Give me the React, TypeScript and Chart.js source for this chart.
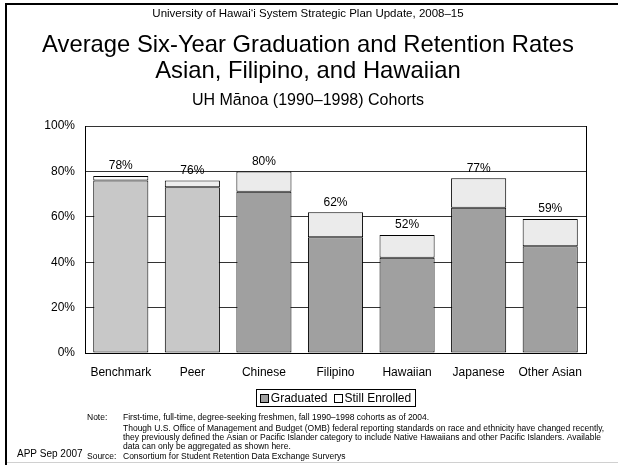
import React, { useEffect, useRef } from "react";
import { Chart, registerables } from "chart.js";

Chart.register(...registerables);

const categories = ["Benchmark", "Peer", "Chinese", "Filipino", "Hawaiian", "Japanese", "Other Asian"];
const graduated = [76, 73, 71, 51, 42, 64, 47];
const stillEnrolled = [2, 3, 9, 11, 10, 13, 12];
const totalLabels = ["78%", "76%", "80%", "62%", "52%", "77%", "59%"];
const gradColors = ["#c8c8c8", "#c8c8c8", "#a0a0a0", "#a0a0a0", "#a0a0a0", "#a0a0a0", "#a0a0a0"];
const enrolledColors = ["#fafafa", "#eeeeee", "#ebebeb", "#ebebeb", "#ebebeb", "#ebebeb", "#ebebeb"];
const seriesNames = ["Graduated", "Still Enrolled"];
const legendSwatch = ["#a0a0a0", "#ffffff"];

const topLine = "University of Hawai\u2018i System Strategic Plan Update, 2008\u201315";
const titleLines = ["Average Six-Year Graduation and Retention Rates", "Asian, Filipino, and Hawaiian"];
const subTitle = "UH M\u0101noa (1990\u20131998) Cohorts";
const noteLines = [
  "First-time, full-time, degree-seeking freshmen, fall 1990\u20131998 cohorts as of 2004.",
  "Though U.S. Office of Management and Budget (OMB) federal reporting standards on race and ethnicity have changed recently,",
  "they previously defined the Asian or Pacific Islander category to include Native Hawaiians and other Pacific Islanders. Available",
  "data can only be aggregated as shown here.",
];
const sourceLine = "Consortium for Student Retention Data Exchange Surverys";
const stamp = "APP Sep 2007";

const FONT = "'Liberation Sans', Arial, sans-serif";

const decor = {
  id: "decor",
  beforeDraw(chart: any) {
    const ctx = chart.ctx;
    ctx.save();
    ctx.fillStyle = "#ffffff";
    ctx.fillRect(0, 0, chart.width, chart.height);
    ctx.restore();
  },
  afterDraw(chart: any) {
    const ctx = chart.ctx;
    const ca = chart.chartArea;
    ctx.save();
    // frame
    ctx.fillStyle = "#000";
    ctx.fillRect(5, 3, 2, chart.height - 3);
    ctx.fillRect(5, 3, chart.width - 5, 2);
    ctx.fillStyle = "#d0d0d0";
    ctx.fillRect(7, 462, chart.width - 7, 1);

    // right border of plot
    ctx.strokeStyle = "#000";
    ctx.lineWidth = 1;
    ctx.beginPath();
    ctx.moveTo(Math.round(ca.right) + 0.5, ca.top);
    ctx.lineTo(Math.round(ca.right) + 0.5, ca.bottom);
    ctx.stroke();

    // titles
    ctx.fillStyle = "#000";
    ctx.textAlign = "center";
    ctx.textBaseline = "middle";
    const cx = 308;
    ctx.font = `11.5px ${FONT}`;
    ctx.fillText(topLine, cx, 14);
    ctx.font = `23.8px ${FONT}`;
    ctx.fillText(titleLines[0], cx, 45);
    ctx.fillText(titleLines[1], cx, 71);
    ctx.font = `16px ${FONT}`;
    ctx.fillText(subTitle, cx, 101);

    // value labels
    const meta = chart.getDatasetMeta(1);
    ctx.font = `12px ${FONT}`;
    ctx.textBaseline = "bottom";
    meta.data.forEach((bar: any, i: number) => {
      ctx.fillText(totalLabels[i], bar.x, bar.y - 4);
    });

    // legend
    ctx.font = `12px ${FONT}`;
    ctx.textAlign = "left";
    ctx.textBaseline = "middle";
    const sw = 8;
    const gap = 3;
    const sep = 6;
    const widths = seriesNames.map((s) => ctx.measureText(s).width);
    const inner = widths.reduce((a, w) => a + sw + gap + w, 0) + sep;
    const lx = (ca.left + ca.right) / 2 - inner / 2;
    const ly = 398;
    ctx.strokeStyle = "#000";
    ctx.lineWidth = 1;
    ctx.strokeRect(Math.round(lx - 4) + 0.5, 389.5, Math.round(inner + 8), 17);
    let x = lx;
    seriesNames.forEach((s, i) => {
      ctx.fillStyle = legendSwatch[i];
      ctx.fillRect(Math.round(x) + 0.5, ly - 4 + 0.5, sw, sw);
      ctx.strokeRect(Math.round(x) + 0.5, ly - 4 + 0.5, sw, sw);
      ctx.fillStyle = "#000";
      ctx.fillText(s, x + sw + gap, ly + 1);
      x += sw + gap + widths[i] + sep;
    });

    // notes
    ctx.font = `8.5px ${FONT}`;
    ctx.textBaseline = "middle";
    ctx.fillText("Note:", 87, 418);
    const ys = [418, 428.5, 438, 447];
    noteLines.forEach((l, i) => ctx.fillText(l, 123, ys[i]));
    ctx.fillText("Source:", 87, 457);
    ctx.fillText(sourceLine, 123, 457);
    ctx.font = `10px ${FONT}`;
    ctx.fillText(stamp, 17, 454);
    ctx.restore();
  },
};

export default function App() {
  const ref = useRef<HTMLCanvasElement>(null);
  useEffect(() => {
    if (!ref.current) return;
    const chart = new Chart(ref.current, {
      type: "bar",
      data: {
        labels: categories,
        datasets: [
          {
            label: seriesNames[0],
            data: graduated,
            backgroundColor: gradColors,
            borderColor: "#000",
            borderWidth: 1,
            borderSkipped: false,
            barPercentage: 0.77,
            categoryPercentage: 1,
          },
          {
            label: seriesNames[1],
            data: stillEnrolled,
            backgroundColor: enrolledColors,
            borderColor: "#000",
            borderWidth: 1,
            borderSkipped: false,
            barPercentage: 0.77,
            categoryPercentage: 1,
          },
        ],
      },
      options: {
        responsive: false,
        animation: false,
        devicePixelRatio: 1,
        layout: { padding: { left: 0, right: 32, top: 126, bottom: 72 } },
        plugins: { legend: { display: false }, title: { display: false }, tooltip: { enabled: false } },
        scales: {
          x: {
            stacked: true,
            grid: { display: false, drawTicks: false },
            border: { display: true, color: "#000", width: 1 },
            ticks: { color: "#000", font: { family: FONT, size: 12 }, padding: 12, maxRotation: 0, autoSkip: false },
            afterFit: (s: any) => { s.height = 40; },
          },
          y: {
            stacked: true,
            min: 0,
            max: 100,
            ticks: {
              stepSize: 20,
              color: "#000",
              font: { family: FONT, size: 12 },
              padding: 10,
              callback: (v: any) => `${v}%`,
            },
            grid: { color: "#333", lineWidth: 1, drawTicks: false },
            border: { display: true, color: "#000", width: 1 },
            afterFit: (s: any) => { s.width = 85; },
          },
        },
      },
      plugins: [decor],
    });
    return () => chart.destroy();
  }, []);
  return (
    <div style={{ position: "absolute", left: 0, top: 0, width: 618, height: 465 }}>
      <canvas ref={ref} width={618} height={465} style={{ display: "block" }} />
    </div>
  );
}
